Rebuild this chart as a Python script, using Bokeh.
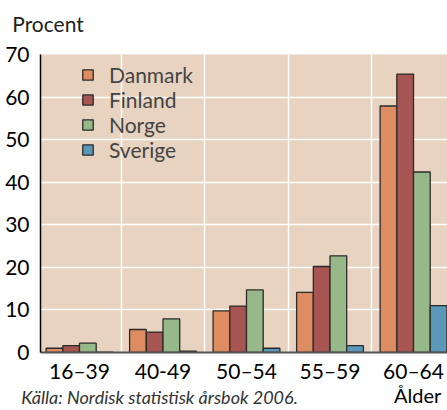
from bokeh.plotting import figure
from bokeh.models import (ColumnDataSource, FixedTicker, Legend, LegendItem, Range1d,
                          LinearAxis)
from bokeh.embed import file_html
from bokeh.resources import INLINE

categories = ["16–39", "40-49", "50–54", "55–59", "60–64"]
countries = ["Danmark", "Finland", "Norge", "Sverige"]
danmark = [1.0, 5.4, 9.8, 14.1, 57.9]
finland = [1.6, 4.8, 10.9, 20.2, 65.4]
norge = [2.2, 7.9, 14.7, 22.7, 42.4]
sverige = [0.1, 0.3, 1.0, 1.6, 11.0]
yticks = [0, 10, 20, 30, 40, 50, 60, 70]
x_title = "Ålder"
y_title = "Procent"
source_note = "Källa: Nordisk statistisk årsbok 2006."

colors = ["#de8d62", "#a65552", "#97b98a", "#5b97b8"]
FONT = "Lato"

p = figure(width=447, height=410, output_backend="svg", toolbar_location=None,
           x_range=Range1d(-0.467, 4.407), y_range=Range1d(0, 70),
           min_border_left=40, min_border_right=0, min_border_top=54, min_border_bottom=55)
p.background_fill_color = "#e8d3c1"
p.border_fill_color = "white"
p.outline_line_color = None

series = [danmark, finland, norge, sverige]
offsets = [-0.3, -0.1, 0.1, 0.3]
items = []
for name, vals, col, off in zip(countries, series, colors, offsets):
    src = ColumnDataSource(dict(x=[i + off for i in range(len(categories))], top=vals))
    r = p.vbar(x="x", top="top", width=0.2, source=src, fill_color=col,
               line_color="#2a2a2a", line_width=1.3)
    items.append(LegendItem(label=name, renderers=[r]))

leg = Legend(items=items, background_fill_alpha=0,
             border_line_color=None, label_text_font=FONT, label_text_font_size="21px",
             glyph_width=13, glyph_height=13, label_height=20, spacing=0,
             margin=0, padding=0, label_standoff=15)
leg.location = (41, 190)
p.add_layout(leg, "center")

p.xaxis.ticker = FixedTicker(ticks=list(range(len(categories))))
p.xaxis.major_label_overrides = {i: c for i, c in enumerate(categories)}
p.yaxis.ticker = FixedTicker(ticks=yticks)
for ax in (p.xaxis, p.yaxis):
    ax.major_tick_line_color = None
    ax.minor_tick_line_color = None
    ax.major_label_text_font = FONT
    ax.major_label_text_font_size = "21px"
    ax.major_label_text_color = "black"
p.xaxis.major_tick_out = 0
p.xaxis.minor_tick_out = 0
p.xaxis.axis_line_color = "#555555"
p.xaxis.axis_line_width = 2
p.yaxis.axis_line_color = "black"
p.yaxis.axis_line_width = 1.5
p.yaxis.major_label_standoff = 5
p.xaxis.major_label_standoff = 5


def text_row(pos, text, size, style="normal", color="black", standoff=0):
    return LinearAxis(ticker=FixedTicker(ticks=[pos]), major_label_overrides={pos: text},
                      axis_line_color=None, major_tick_line_color=None,
                      minor_tick_line_color=None, major_tick_out=0, minor_tick_out=0,
                      major_label_text_font=FONT, major_label_text_font_size=size,
                      major_label_text_font_style=style, major_label_text_color=color,
                      major_label_standoff=standoff)


# label rows outside the plot area
p.add_layout(text_row(0.958, source_note, "18px", style="italic", color="#333333",
                      standoff=0), "below")
p.add_layout(text_row(4.05, x_title, "20px", standoff=-28), "below")
p.add_layout(text_row(-0.377, y_title, "21px", color="#222222", standoff=19), "above")

p.xgrid.ticker = FixedTicker(ticks=[0.5, 1.5, 2.5, 3.5])
p.ygrid.ticker = FixedTicker(ticks=[10, 20, 30, 40, 50, 60])
p.xgrid.grid_line_color = "white"
p.ygrid.grid_line_color = "white"
p.xgrid.grid_line_width = 1.5
p.ygrid.grid_line_width = 1.5

open("out.html", "w").write(file_html(p, INLINE))
